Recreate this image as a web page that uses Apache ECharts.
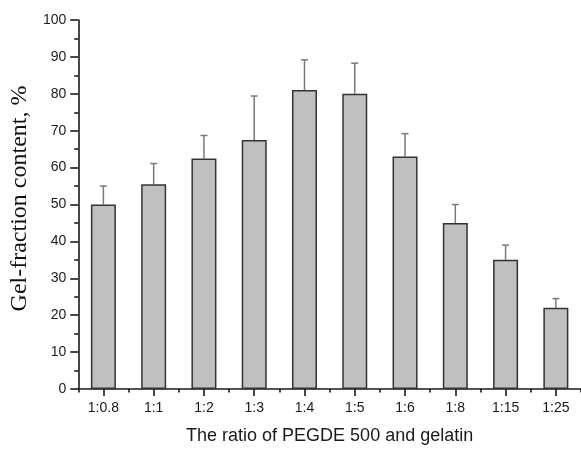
<!DOCTYPE html>
<html>
<head>
<meta charset="utf-8">
<script src="https://cdn.jsdelivr.net/npm/echarts@6/dist/echarts.min.js"></script>
<style>
html,body{margin:0;padding:0;background:#fff;}
#chart{width:581px;height:450px;}
</style>
</head>
<body>
<div id="chart"></div>
<script>
var categories = ['1:0.8', '1:1', '1:2', '1:3', '1:4', '1:5', '1:6', '1:8', '1:15', '1:25'];
var gelFraction = [50, 55.5, 62.5, 67.5, 81, 80, 63, 45, 35, 22];
var errorUp = [5, 5.6, 6.2, 11.9, 8.2, 8.3, 6.2, 5, 4, 2.5];
var yTicks = [0, 10, 20, 30, 40, 50, 60, 70, 80, 90, 100];

var errData = categories.map(function (c, i) { return [i, gelFraction[i], gelFraction[i] + errorUp[i]]; });

var chart = echarts.init(document.getElementById('chart'), null, {renderer: 'canvas'});
var axisLineStyle = {color: '#1a1a1a', width: 1.6};
chart.setOption({
  animation: false,
  backgroundColor: '#fff',
  grid: {left: 78, top: 20, right: -2, bottom: 56, containLabel: false},
  xAxis: [{
    type: 'category',
    data: categories,
    boundaryGap: true,
    position: 'bottom',
    axisLine: {show: true, lineStyle: axisLineStyle},
    axisTick: {show: true, alignWithLabel: true, length: 7, lineStyle: axisLineStyle},
    axisLabel: {fontFamily: 'Liberation Sans', fontSize: 14, color: '#1a1a1a', margin: 12},
    splitLine: {show: false},
    name: 'The ratio of PEGDE 500 and gelatin',
    nameLocation: 'middle',
    nameGap: 38,
    nameTextStyle: {fontFamily: 'Liberation Sans', fontSize: 18, color: '#1a1a1a'}
  }, {
    type: 'category',
    data: categories,
    boundaryGap: true,
    position: 'bottom',
    offset: 0,
    axisLine: {show: false},
    axisTick: {show: true, length: 3.5, lineStyle: axisLineStyle},
    axisLabel: {show: false},
    splitLine: {show: false}
  }],
  yAxis: {
    type: 'value',
    min: yTicks[0],
    max: yTicks[yTicks.length - 1],
    interval: 10,
    axisLine: {show: true, lineStyle: axisLineStyle},
    axisTick: {show: true, length: 8, lineStyle: axisLineStyle},
    minorTick: {show: true, splitNumber: 2, length: 4, lineStyle: axisLineStyle},
    axisLabel: {fontFamily: 'Liberation Sans', fontSize: 14, color: '#1a1a1a', margin: 12},
    splitLine: {show: false},
    name: 'Gel-fraction content, %',
    nameLocation: 'middle',
    nameGap: 44,
    nameTextStyle: {fontFamily: 'Liberation Serif', fontSize: 24, color: '#111', padding: [0, 0, 0, 12]}
  },
  series: [{
    type: 'bar',
    data: gelFraction,
    barWidth: 25,
    xAxisIndex: 0,
    itemStyle: {color: '#c0c0c0', borderColor: '#333', borderWidth: 1.5},
    z: 2
  }, {
    type: 'custom',
    xAxisIndex: 0,
    data: errData,
    z: 1,
    renderItem: function (params, api) {
      var base = api.coord([api.value(0), api.value(1)]);
      var top = api.coord([api.value(0), api.value(2)]);
      var hw = 3.5;
      var st = {stroke: '#7a7a7a', lineWidth: 1.5};
      return {type: 'group', children: [
        {type: 'line', shape: {x1: base[0], y1: base[1], x2: top[0], y2: top[1]}, style: st},
        {type: 'line', shape: {x1: top[0] - hw, y1: top[1], x2: top[0] + hw, y2: top[1]}, style: st}
      ]};
    }
  }]
});
</script>
</body>
</html>
